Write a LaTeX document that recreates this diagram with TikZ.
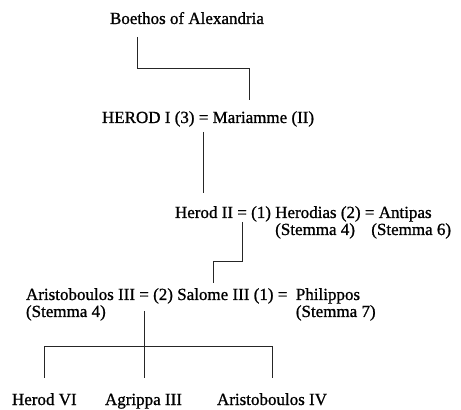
\documentclass[tikz,border=0pt]{standalone}
\usepackage{fontspec}
\setmainfont{Liberation Serif}[RawFeature={embolden=1}]
\usetikzlibrary{positioning}

\begin{document}
\begin{tikzpicture}[x=1pt,y=1pt,node distance=4.25pt,
	person/.style={inner sep=0pt,outer sep=0pt,text height=11pt,text depth=4pt,font=\fontsize{17}{20}\selectfont},
	stemma/.style={person,anchor=base west},
	tie/.style={line width=0.9pt,black!85}]
	\useasboundingbox (0,0) rectangle (461,410);
	
	%Boethos
	\node[person,anchor=base west] (boethos) at (110,386) {Boethos};
	\node[person,base right=of boethos] (alex) {of Alexandria};
	
	%Herod I
	\node[person,anchor=base west] (herodI) at (102,287) {HEROD I (3)};
	\node[person,base right=of herodI] (eq1) {=};
	\node[person,base right=of eq1] (mariamme) {Mariamme};
	\node[person,base right=of mariamme] (mariammeII) {(II)};
	
	%Herod II
	\node[person,anchor=base west] (herodII) at (175,192) {Herod II};
	\node[person,base right=of herodII] (eq2) {=};
	\node[person,base right=of eq2] (herodiasA) {(1)};
	\node[person,base right=of herodiasA] (herodias) {Herodias};
	\node[person,base right=of herodias] (herodiasB) {(2)};
	\node[person,base right=of herodiasB] (eq2b) {=};
	\node[person,base right=of eq2b] (antipas) {Antipas};
	\node[stemma] (stemmaHerodias) at ([yshift=-17pt]herodias.base west) {(Stemma 4)};
	\node[person,anchor=base] (stemmaAntipas) at ([xshift=6pt,yshift=-17pt]antipas.base) {(Stemma 6)};
	
	%Salome III
	\node[person,anchor=base west] (aristoIII) at (26,110) {Aristoboulos III};
	\node[person,base right=of aristoIII] (eq3) {=};
	\node[person,base right=of eq3] (salomeA) {(2)};
	\node[person,base right=of salomeA] (salome) {Salome III};
	\node[person,base right=of salome] (salomeB) {(1)};
	\node[person,base right=of salomeB] (eq4) {=};
	\node[person,base right=8.5pt of eq4] (philippos) {Philippos};
	\node[stemma] (stemmaAristo) at ([yshift=-17pt]aristoIII.base west) {(Stemma 4)};
	\node[stemma] (stemmaPhilippos) at ([yshift=-17pt]philippos.base west) {(Stemma 7)};
	
	%children
	\node[person,anchor=base west] (herodVI) at (12,5) {Herod VI};
	\node[person,anchor=base west] (agrippa) at (105,5) {Agrippa III};
	\node[person,anchor=base west] (aristoIV) at (217,5) {Aristoboulos IV};
	
	%lines
	\draw[tie,shorten <=9pt,shorten >=12pt] (boethos.south) -- ++(0,-40) -| (mariamme.north);
	\draw[tie,shorten <=5pt,shorten >=14pt] (eq1.south) -- (eq1.south |- herodII.north);
	\draw[tie,shorten >=6pt] (eq2.south) -- ++(0,-39.5) -| (salome.north);
	\draw[tie,shorten <=7pt,shorten >=16pt] (eq3.south) -- (eq3.south |- agrippa.north);
	\draw[tie,shorten <=16pt,shorten >=16pt] (herodVI.north) -- ++(0,48) -| (aristoIV.north);
\end{tikzpicture}
\end{document}
